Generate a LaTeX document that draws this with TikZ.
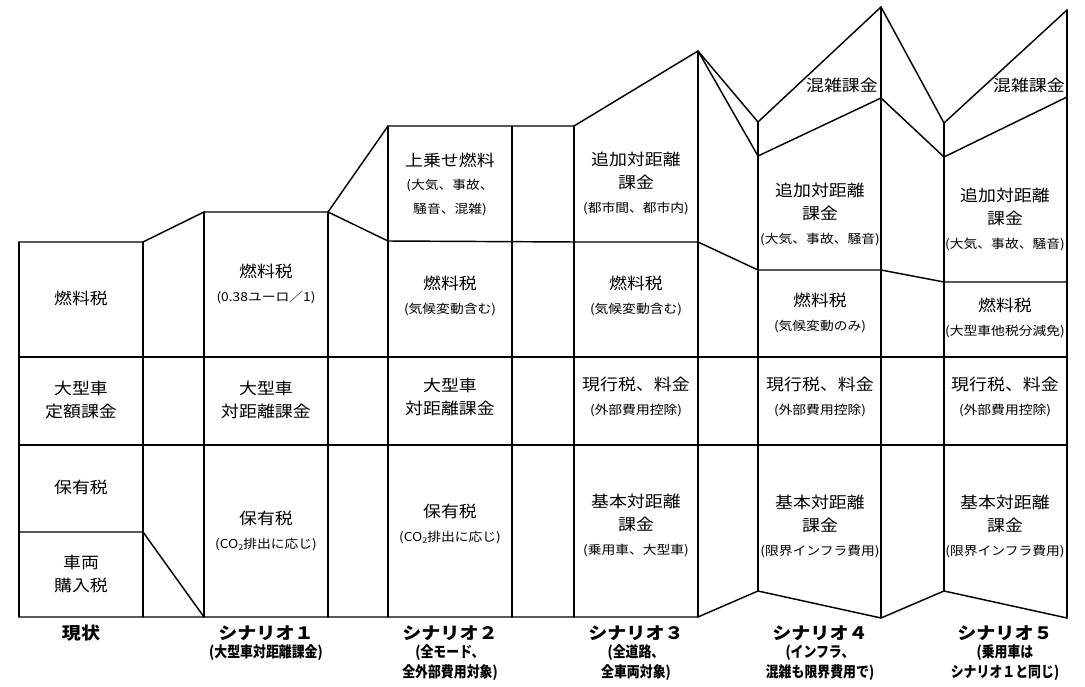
\documentclass[tikz,border=0pt]{standalone}
\usepackage{fontspec}
\newfontfamily\jpw[FakeStretch=1.12]{Noto Sans CJK JP}
\newfontfamily\jpn[FakeStretch=0.86]{Noto Sans CJK JP}
\newcommand{\mainf}{\jpw\fontsize{16}{23.5}\selectfont}
\newcommand{\sm}[1]{{\jpw\fontsize{12.3}{23.5}\selectfont #1}}
\newcommand{\cotwo}{CO\raisebox{-0.35ex}{\fontsize{8}{8}\selectfont 2}}
\begin{document}
\begin{tikzpicture}[x=1pt,y=-1pt,
  fr/.style={line width=1.45pt, line join=round, line cap=round},
  cell/.style={align=center, inner sep=0pt, font=\mainf},
  ttl/.style={inner sep=0pt, font=\jpw\bfseries\fontsize{17}{20}\selectfont},
  sub/.style={align=center, inner sep=0pt, font=\jpn\bfseries\fontsize{15}{20}\selectfont}]
\useasboundingbox (0,0) rectangle (1085,687);
\fill[white] (0,0) rectangle (1085,687);

% ---- outline of the folded screen ----
\draw[fr] (19,242) -- (143,242) -- (204,212) -- (328,212) -- (388,126) -- (574,126)
  -- (698,51) -- (758,122) -- (881,7) -- (944,123) -- (1067,10);
\draw[fr] (328,212) -- (388,241) -- (574,242) -- (698,242) -- (758,270) -- (881,270)
  -- (944,282) -- (1067,282);
\draw[fr] (698,51) -- (758,156) -- (881,98) -- (944,157) -- (1067,97);
\draw[fr] (19,357) -- (1067,357);
\draw[fr] (19,445) -- (1067,445);
\draw[fr] (19,532) -- (143,532) -- (204,617);
\draw[fr] (19,617) -- (698,617) -- (758,591) -- (881,618) -- (944,591) -- (1067,618);
% verticals
\draw[fr] (19,242) -- (19,617);
\draw[fr] (143,242) -- (143,617);
\draw[fr] (204,212) -- (204,617);
\draw[fr] (328,212) -- (328,617);
\draw[fr] (388,126) -- (388,617);
\draw[fr] (512,126) -- (512,617);
\draw[fr] (574,126) -- (574,617);
\draw[fr] (698,51) -- (698,617);
\draw[fr] (758,122) -- (758,591);
\draw[fr] (881,7) -- (881,618);
\draw[fr] (944,123) -- (944,591);
\draw[fr] (1067,10) -- (1067,618);

% ---- 現状 ----
\node[cell] (g1) at (81,298) {燃料税};
\node[cell] (g2) at (81,400) {大型車\\定額課金};
\node[cell] (g3) at (81,487) {保有税};
\node[cell] (g4) at (81,574) {車両\\購入税};
% ---- シナリオ1 ----
\node[cell] (a1) at (266,284) {燃料税\\\sm{(0.38ユーロ／1)}};
\node[cell] (a2) at (266,400) {大型車\\対距離課金};
\node[cell] (a3) at (266,531) {保有税\\\sm{(\cotwo 排出に応じ)}};
% ---- シナリオ2 ----
\node[cell] (b0) at (450,184) {上乗せ燃料\\\sm{(大気、事故、}\\\sm{騒音、混雑)}};
\node[cell] (b1) at (450,296) {燃料税\\\sm{(気候変動含む)}};
\node[cell] (b2) at (450,397) {大型車\\対距離課金};
\node[cell] (b3) at (450,524) {保有税\\\sm{(\cotwo 排出に応じ)}};
% ---- シナリオ3 ----
\node[cell] (c0) at (636,183) {追加対距離\\課金\\\sm{(都市間、都市内)}};
\node[cell] (c1) at (636,296) {燃料税\\\sm{(気候変動含む)}};
\node[cell] (c2) at (636,397) {現行税、料金\\\sm{(外部費用控除)}};
\node[cell] (c3) at (636,525) {基本対距離\\課金\\\sm{(乗用車、大型車)}};
% ---- シナリオ4 ----
\node[cell, anchor=east] (d9) at (878,85) {混雑課金};
\node[cell] (d0) at (820,214) {追加対距離\\課金\\\sm{(大気、事故、騒音)}};
\node[cell] (d1) at (820,313) {燃料税\\\sm{(気候変動のみ)}};
\node[cell] (d2) at (820,397) {現行税、料金\\\sm{(外部費用控除)}};
\node[cell] (d3) at (820,526) {基本対距離\\課金\\\sm{(限界インフラ費用)}};
% ---- シナリオ5 ----
\node[cell, anchor=east] (e9) at (1065,85) {混雑課金};
\node[cell] (e0) at (1005,219) {追加対距離\\課金\\\sm{(大気、事故、騒音)}};
\node[cell] (e1) at (1005,318) {燃料税\\\sm{(大型車他税分減免)}};
\node[cell] (e2) at (1005,397) {現行税、料金\\\sm{(外部費用控除)}};
\node[cell] (e3) at (1005,526) {基本対距離\\課金\\\sm{(限界インフラ費用)}};

% ---- bottom labels ----
\node[ttl] (t0) at (81,633) {現状};
\node[ttl] (t1) at (266,633) {シナリオ１};
\node[sub] (s1) at (266,653) {(大型車対距離課金)};
\node[ttl] (t2) at (450,633) {シナリオ２};
\node[sub] (s2) at (450,663) {(全モード、\\全外部費用対象)};
\node[ttl] (t3) at (636,633) {シナリオ３};
\node[sub] (s3) at (636,663) {(全道路、\\全車両対象)};
\node[ttl] (t4) at (820,633) {シナリオ４};
\node[sub] (s4) at (820,663) {(インフラ、\\混雑も限界費用で)};
\node[ttl] (t5) at (1005,633) {シナリオ５};
\node[sub] (s5) at (1005,663) {(乗用車は\\シナリオ１と同じ)};
\end{tikzpicture}
\end{document}
